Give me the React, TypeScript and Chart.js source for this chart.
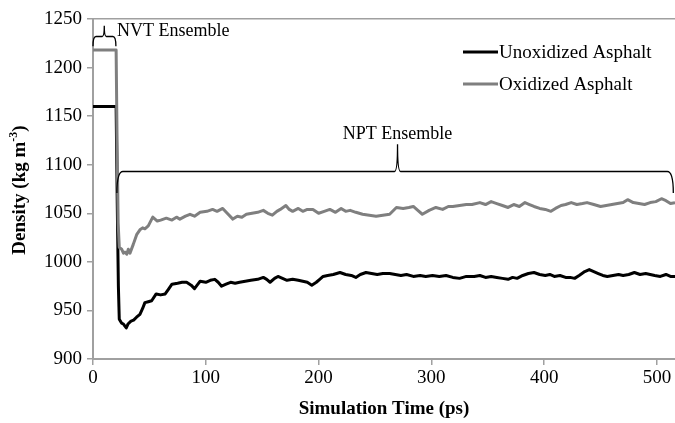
import React, { useEffect, useRef } from 'react';
import { Chart, registerables } from 'chart.js';

Chart.register(...registerables);

// ---- data ----
const unoxTime = [0, 20.5, 21.5, 22.5, 23.3, 25.3, 27, 29.5, 31, 33.7, 36, 38.6, 41.6, 44, 46, 49, 52, 56, 60, 64, 67, 70, 75, 79, 83, 87, 90, 93, 95, 100, 104, 108, 111, 114, 118, 122, 126, 130, 135, 140, 146, 151, 154, 157, 161, 164, 168, 172, 177, 182, 186, 190, 194, 198, 201, 204, 208, 213, 219, 224, 229, 233, 237, 242, 247, 252, 257, 263, 268, 273, 278, 284, 290, 295, 301, 307, 313, 319, 325, 331, 338, 343, 348, 353, 358, 363, 368, 372, 376, 381, 386, 391, 396, 401, 405, 409, 414, 419, 423, 427, 431, 436, 440, 444, 448, 452, 456, 461, 466, 470, 475, 480, 485, 490, 494, 498, 503, 508, 512, 516];
const unoxDensity = [1160, 1160, 1060, 975, 941, 937, 936, 932, 936, 939, 940, 943, 946, 952, 958, 959, 960, 967, 966, 967, 972, 977, 978, 979, 979, 976, 972.5, 977, 980, 979, 981, 982, 979, 975, 977, 979, 978, 979, 980, 981, 982, 984, 982, 979, 983, 985, 983, 981, 982, 981, 980, 979, 976, 979, 982, 985, 986, 987, 989, 987, 986, 984, 987, 989, 988, 987, 988, 988, 987, 986, 987, 985, 986, 985, 986, 985, 986, 984, 983, 985, 985, 986, 984, 985, 984, 983, 982, 984, 983, 986, 988, 989, 987, 986, 987, 985, 986, 984, 984, 983, 986, 990, 992, 990, 988, 986, 985, 986, 987, 986, 987, 989, 987, 988, 987, 986, 985, 987, 985, 985];

const oxTime = [0, 20.5, 21.3, 22.3, 23.3, 25.4, 27, 28.3, 30, 31.3, 32.8, 35.7, 38.7, 41.6, 44, 46, 49, 53, 55, 57, 60, 65, 70, 74, 77, 82, 86, 90, 95, 101, 106, 110, 115, 119, 124, 128, 132, 136, 141, 146, 151, 155, 159, 163, 166, 171, 174, 177, 182, 186, 190, 195, 200, 205, 210, 215, 220, 224, 228, 233, 239, 245, 251, 257, 263, 269, 275, 280, 284, 288, 292, 298, 304, 310, 315, 319, 325, 331, 336, 343, 348, 353, 358, 363, 368, 373, 378, 383, 387, 391, 396, 401, 406, 410, 415, 419, 424, 429, 434, 438, 444, 450, 455, 460, 465, 470, 474, 479, 484, 489, 494, 499, 504, 508, 512, 516];
const oxDensity = [1218, 1218, 1130, 1040, 1015, 1013, 1009, 1010, 1008, 1013, 1009, 1018, 1028, 1033, 1035, 1034, 1037, 1046, 1044, 1042, 1043, 1045, 1043, 1046, 1044, 1047, 1049, 1047, 1051, 1052, 1054, 1052, 1055, 1050, 1044, 1047, 1046, 1049, 1050, 1051, 1053, 1050, 1048, 1052, 1054, 1058, 1054, 1052, 1055, 1052, 1054, 1054, 1050, 1052, 1054, 1051, 1055, 1052, 1053, 1051, 1049, 1048, 1047, 1048, 1049, 1056, 1055, 1056, 1057, 1053, 1049, 1053, 1056, 1054, 1057, 1057, 1058, 1059, 1059, 1061, 1059, 1062, 1060, 1058, 1056, 1059, 1057, 1061, 1059, 1057, 1055, 1054, 1052, 1055, 1058, 1059, 1061, 1059, 1060, 1061, 1059, 1057, 1058, 1059, 1060, 1061, 1064, 1061, 1060, 1059, 1061, 1062, 1065, 1063, 1060, 1061];

const seriesNames = ['Unoxidized Asphalt', 'Oxidized Asphalt'];
const xLimits = [0, 516];
const yLimits = [900, 1250];
const xStep = 100;
const yStep = 50;
const xTitle = 'Simulation Time (ps)';
const yTitleMain = 'Density (kg m';
const yTitleSup = '-3';
const yTitleEnd = ')';
const nvtLabel = 'NVT Ensemble';
const nptLabel = 'NPT Ensemble';

const FONT = "'Liberation Serif', 'Times New Roman', serif";
const AXIS_GRAY = '#a0a0a0';
const OX_GRAY = '#7f7f7f';

function drawBracket(ctx: CanvasRenderingContext2D, xl: number, xr: number, xc: number, ym: number, yEnd: number, yPeak: number, r: number, rp: number) {
  ctx.beginPath();
  ctx.moveTo(xl, yEnd);
  ctx.quadraticCurveTo(xl, ym, xl + r, ym);
  ctx.lineTo(xc - rp, ym);
  ctx.quadraticCurveTo(xc, ym, xc, yPeak);
  ctx.quadraticCurveTo(xc, ym, xc + rp, ym);
  ctx.lineTo(xr - r, ym);
  ctx.quadraticCurveTo(xr, ym, xr, yEnd);
  ctx.stroke();
}

const annotPlugin = {
  id: 'annot',
  afterDatasetsDraw(chart: any) {
    const { ctx, scales } = chart;
    const x = scales.x;
    const y = scales.y;
    ctx.save();
    ctx.strokeStyle = '#000';
    ctx.lineWidth = 1.3;
    // NVT bracket
    drawBracket(ctx, x.getPixelForValue(0), x.getPixelForValue(20.3), x.getPixelForValue(10), y.getPixelForValue(1232), y.getPixelForValue(1222), y.getPixelForValue(1243), 3, 2);
    // NPT bracket
    drawBracket(ctx, x.getPixelForValue(21.2), x.getPixelForValue(514.5), x.getPixelForValue(270), y.getPixelForValue(1093), y.getPixelForValue(1071), y.getPixelForValue(1121), 6, 3);

    ctx.fillStyle = '#000';
    ctx.font = `18px ${FONT}`;
    ctx.textBaseline = 'alphabetic';
    ctx.textAlign = 'left';
    ctx.fillText(nvtLabel, x.getPixelForValue(21.3), y.getPixelForValue(1232));
    ctx.textAlign = 'center';
    ctx.fillText(nptLabel, x.getPixelForValue(270), y.getPixelForValue(1126));

    // legend
    ctx.font = `19px ${FONT}`;
    ctx.textAlign = 'left';
    ctx.textBaseline = 'middle';
    const legendColors = ['#000', OX_GRAY];
    const legendY = [52, 84];
    seriesNames.forEach((name, i) => {
      ctx.strokeStyle = legendColors[i];
      ctx.lineWidth = 3;
      ctx.beginPath();
      ctx.moveTo(463, legendY[i]);
      ctx.lineTo(498, legendY[i]);
      ctx.stroke();
      ctx.fillStyle = '#000';
      ctx.fillText(name, 499, legendY[i] + 1);
    });

    // y title with superscript
    ctx.save();
    ctx.translate(20, 190);
    ctx.rotate(-Math.PI / 2);
    const mainFont = `bold 19px ${FONT}`;
    const supFont = `bold 12px ${FONT}`;
    ctx.font = mainFont;
    const w1 = ctx.measureText(yTitleMain).width;
    const w3 = ctx.measureText(yTitleEnd).width;
    ctx.font = supFont;
    const w2 = ctx.measureText(yTitleSup).width;
    const total = w1 + w2 + w3;
    let cx = -total / 2;
    ctx.textAlign = 'left';
    ctx.textBaseline = 'middle';
    ctx.font = mainFont;
    ctx.fillText(yTitleMain, cx, 0);
    cx += w1;
    ctx.font = supFont;
    ctx.fillText(yTitleSup, cx, -6);
    cx += w2;
    ctx.font = mainFont;
    ctx.fillText(yTitleEnd, cx, 0);
    ctx.restore();

    ctx.restore();
  },
};

export default function App() {
  const ref = useRef<HTMLCanvasElement | null>(null);
  useEffect(() => {
    document.body.style.margin = '0';
    const canvas = ref.current;
    if (!canvas) return;
    const chart = new Chart(canvas, {
      type: 'line',
      data: {
        datasets: [
          {
            label: seriesNames[1],
            data: oxTime.map((t, i) => ({ x: t, y: oxDensity[i] })),
            borderColor: OX_GRAY,
            borderWidth: 3,
            pointRadius: 0,
            tension: 0,
            borderJoinStyle: 'round',
          },
          {
            label: seriesNames[0],
            data: unoxTime.map((t, i) => ({ x: t, y: unoxDensity[i] })),
            borderColor: '#000',
            borderWidth: 3,
            pointRadius: 0,
            tension: 0,
            borderJoinStyle: 'round',
          },
        ],
      },
      options: {
        responsive: false,
        animation: false,
        layout: { padding: { top: 19, right: 0, left: 0, bottom: 0 } },
        plugins: { legend: { display: false }, tooltip: { enabled: false } },
        scales: {
          x: {
            type: 'linear',
            min: xLimits[0],
            max: xLimits[1],
            afterFit: (s: any) => { s.height = 64; },
            ticks: {
              stepSize: xStep,
              includeBounds: false,
              color: '#000',
              font: { family: FONT, size: 19 },
              padding: 2,
              maxRotation: 0,
              callback: (v: any) => String(v),
            },
            grid: { drawOnChartArea: false, tickLength: 6, color: AXIS_GRAY, lineWidth: 1.5 },
            border: { color: AXIS_GRAY, width: 2 },
            title: {
              display: true,
              text: xTitle,
              color: '#000',
              font: { family: FONT, size: 19, weight: 'bold' },
              padding: { top: 0, bottom: 3 },
            },
          },
          y: {
            type: 'linear',
            min: yLimits[0],
            max: yLimits[1],
            afterFit: (s: any) => { s.width = 93; },
            ticks: {
              stepSize: yStep,
              color: '#000',
              font: { family: FONT, size: 19 },
              padding: 5,
              callback: (v: any) => String(v),
            },
            grid: {
              drawOnChartArea: true,
              tickLength: 6,
              lineWidth: 1.5,
              color: (c: any) => (c.tick && c.tick.value === yLimits[1] ? AXIS_GRAY : 'rgba(0,0,0,0)'),
              tickColor: AXIS_GRAY,
            },
            border: { color: AXIS_GRAY, width: 2 },
          },
        },
      },
      plugins: [annotPlugin],
    } as any);
    return () => chart.destroy();
  }, []);
  return (
    <div style={{ width: 675, height: 423 }}>
      <canvas ref={ref} width={675} height={423} />
    </div>
  );
}
